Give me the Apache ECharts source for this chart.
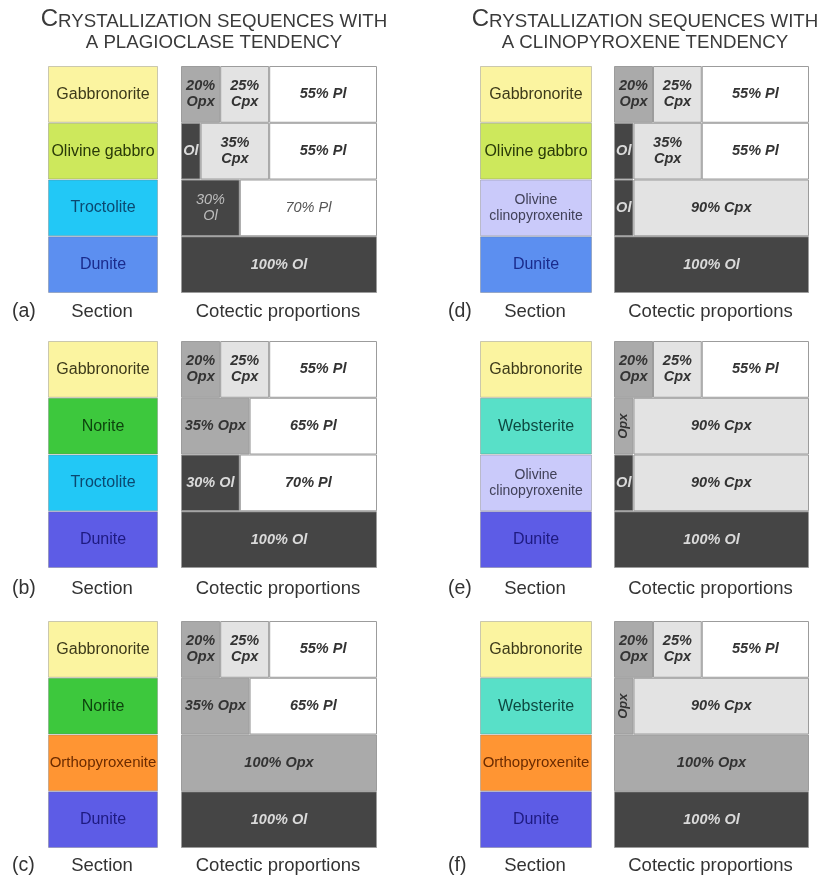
<!DOCTYPE html>
<html>
<head>
<meta charset="utf-8">
<script src="https://cdn.jsdelivr.net/npm/echarts@6/dist/echarts.min.js"></script>
<style>
html,body{margin:0;padding:0;background:#ffffff;}
#chart{width:824px;height:878px;}
</style>
</head>
<body>
<div id="chart"></div>
<script>
// ---------- DATA ----------
const minerals = ['Ol', 'Opx', 'Cpx', 'Pl'];

const rocks_a = ['Gabbronorite', 'Olivine gabbro', 'Troctolite', 'Dunite'];
const ol_a  = [0, 10, 30, 100];
const opx_a = [20, 0, 0, 0];
const cpx_a = [25, 35, 0, 0];
const pl_a  = [55, 55, 70, 0];

const rocks_b = ['Gabbronorite', 'Norite', 'Troctolite', 'Dunite'];
const ol_b  = [0, 0, 30, 100];
const opx_b = [20, 35, 0, 0];
const cpx_b = [25, 0, 0, 0];
const pl_b  = [55, 65, 70, 0];

const rocks_c = ['Gabbronorite', 'Norite', 'Orthopyroxenite', 'Dunite'];
const ol_c  = [0, 0, 0, 100];
const opx_c = [20, 35, 100, 0];
const cpx_c = [25, 0, 0, 0];
const pl_c  = [55, 65, 0, 0];

const rocks_d = ['Gabbronorite', 'Olivine gabbro', 'Olivine clinopyroxenite', 'Dunite'];
const ol_d  = [0, 10, 10, 100];
const opx_d = [20, 0, 0, 0];
const cpx_d = [25, 35, 90, 0];
const pl_d  = [55, 55, 0, 0];

const rocks_e = ['Gabbronorite', 'Websterite', 'Olivine clinopyroxenite', 'Dunite'];
const ol_e  = [0, 0, 10, 100];
const opx_e = [20, 10, 0, 0];
const cpx_e = [25, 90, 90, 0];
const pl_e  = [55, 0, 0, 0];

const rocks_f = ['Gabbronorite', 'Websterite', 'Orthopyroxenite', 'Dunite'];
const ol_f  = [0, 0, 0, 100];
const opx_f = [20, 10, 100, 0];
const cpx_f = [25, 90, 0, 0];
const pl_f  = [55, 0, 0, 0];

const titleLeft  = ['Crystallization sequences with', 'a plagioclase tendency'];
const titleRight = ['Crystallization sequences with', 'a clinopyroxene tendency'];
const captionSection  = 'Section';
const captionCotectic = 'Cotectic proportions';

// ---------- STYLE / LAYOUT ----------
const FONT = '"Liberation Sans", Arial, sans-serif';
const rockFill = {
  'Gabbronorite': '#fbf4a0',
  'Olivine gabbro': '#cde85c',
  'Troctolite': '#22c8f6',
  'Dunite': '#5d5ce6',
  'Norite': '#3dc83d',
  'Olivine clinopyroxenite': '#cacafa',
  'Websterite': '#58e0c8',
  'Orthopyroxenite': '#ff9533'
};
const rockText = {
  'Gabbronorite': '#3d3a1a',
  'Olivine gabbro': '#2a3a08',
  'Troctolite': '#0b4870',
  'Dunite': '#1e1a80',
  'Norite': '#0d440d',
  'Olivine clinopyroxenite': '#404058',
  'Websterite': '#0e4a42',
  'Orthopyroxenite': '#6b2b00'
};
const mineralFill = { Ol: '#454545', Opx: '#aaaaaa', Cpx: '#e3e3e3', Pl: '#ffffff' };

const panels = [
  { id: 'a', rocks: rocks_a, vals: [ol_a, opx_a, cpx_a, pl_a], secX: 48,  cotX: 181, secW: 110, cotW: 196, top: 66,  capY: 312, tagX: 12,  wrapMid: true,  plainRow: 2, duniteFill: '#5c8ff0', duniteText: '#1a2b8c' },
  { id: 'b', rocks: rocks_b, vals: [ol_b, opx_b, cpx_b, pl_b], secX: 48,  cotX: 181, secW: 110, cotW: 196, top: 341, capY: 589, tagX: 12,  wrapMid: false, plainRow: -1 },
  { id: 'c', rocks: rocks_c, vals: [ol_c, opx_c, cpx_c, pl_c], secX: 48,  cotX: 181, secW: 110, cotW: 196, top: 621, capY: 866, tagX: 12,  wrapMid: false, plainRow: -1 },
  { id: 'd', rocks: rocks_d, vals: [ol_d, opx_d, cpx_d, pl_d], secX: 480, cotX: 614, secW: 112, cotW: 195, top: 66,  capY: 312, tagX: 448, wrapMid: true,  plainRow: -1, duniteFill: '#5c8ff0', duniteText: '#1a2b8c' },
  { id: 'e', rocks: rocks_e, vals: [ol_e, opx_e, cpx_e, pl_e], secX: 480, cotX: 614, secW: 112, cotW: 195, top: 341, capY: 589, tagX: 448, wrapMid: true,  plainRow: -1 },
  { id: 'f', rocks: rocks_f, vals: [ol_f, opx_f, cpx_f, pl_f], secX: 480, cotX: 614, secW: 112, cotW: 195, top: 621, capY: 866, tagX: 448, wrapMid: true,  plainRow: -1 }
];
const PANEL_H = 227;

function rockLabel(name, p) {
  let text = name, size = 16;
  if (name === 'Olivine clinopyroxenite') { text = 'Olivine\nclinopyroxenite'; size = 14; }
  if (name === 'Orthopyroxenite') { size = 15; }
  const color = (name === 'Dunite' && p.duniteText) ? p.duniteText : rockText[name];
  return { show: true, position: 'inside', formatter: text, fontFamily: FONT, fontSize: size, lineHeight: size + 2, color: color, overflow: 'none' };
}

function cellLabel(p, m, v, row) {
  const dark = m === 'Ol';
  const plain = p.plainRow === row;
  const lab = {
    show: true, position: 'inside', fontFamily: FONT, fontSize: 14.5, lineHeight: 16,
    fontStyle: 'italic', fontWeight: plain ? 'normal' : 'bold',
    color: dark ? (plain ? '#bdbdbd' : '#dadada') : (plain ? '#555555' : '#333333')
  };
  let text;
  if (v <= 10) {
    text = m;
    if (m === 'Opx') { lab.rotate = 90; lab.fontSize = 13; }
  } else if (v <= 25 || (v < 50 && p.wrapMid)) {
    text = v + '%\n' + m;
  } else {
    text = v + '% ' + m;
  }
  lab.formatter = text;
  return lab;
}

const grid = [], xAxis = [], yAxis = [], series = [], graphic = [];

panels.forEach((p, i) => {
  const gs = i * 2, gc = i * 2 + 1;
  grid.push({ left: p.secX, top: p.top, width: p.secW, height: PANEL_H, containLabel: false });
  grid.push({ left: p.cotX, top: p.top, width: p.cotW, height: PANEL_H, containLabel: false });
  xAxis.push({ type: 'value', gridIndex: gs, min: 0, max: 1, show: false });
  xAxis.push({ type: 'value', gridIndex: gc, min: 0, max: 100, show: false });
  yAxis.push({ type: 'category', gridIndex: gs, data: p.rocks, inverse: true, show: false });
  yAxis.push({ type: 'category', gridIndex: gc, data: p.rocks, inverse: true, show: false });

  series.push({
    type: 'bar', xAxisIndex: gs, yAxisIndex: gs, barCategoryGap: 0, silent: true,
    data: p.rocks.map(r => ({
      value: 1,
      itemStyle: { color: (r === 'Dunite' && p.duniteFill) ? p.duniteFill : rockFill[r], borderColor: 'rgba(110,110,110,0.35)', borderWidth: 1 },
      label: rockLabel(r, p)
    }))
  });

  minerals.forEach((m, k) => {
    series.push({
      type: 'bar', name: m, stack: 'cot' + p.id, xAxisIndex: gc, yAxisIndex: gc,
      barCategoryGap: 0, silent: true,
      itemStyle: { color: mineralFill[m], borderColor: '#9c9c9c', borderWidth: 1 },
      data: p.vals[k].map((v, row) => v > 0 ? { value: v, label: cellLabel(p, m, v, row) } : '-')
    });
  });

  // captions
  graphic.push({ type: 'text', x: p.tagX, y: p.capY, style: { text: '(' + p.id + ')', fontFamily: FONT, fontSize: 19.5, fill: '#333333', align: 'left', verticalAlign: 'middle' } });
  graphic.push({ type: 'text', x: p.secX + p.secW / 2 - 1, y: p.capY, style: { text: captionSection, fontFamily: FONT, fontSize: 18.5, fill: '#333333', align: 'center', verticalAlign: 'middle' } });
  graphic.push({ type: 'text', x: p.cotX + p.cotW / 2 - 1, y: p.capY, style: { text: captionCotectic, fontFamily: FONT, fontSize: 18.5, fill: '#333333', align: 'center', verticalAlign: 'middle' } });
});

function smallCaps(str) {
  // first letter of the heading as a full capital, the rest as small capitals
  return str.split(' ').map((w, idx) => idx === 0 && /^[A-Z]/.test(w) && w.length > 1
    ? '{big|' + w[0] + '}{sm|' + w.slice(1).toUpperCase() + '}'
    : '{sm|' + w.toUpperCase() + '}').join('{sm| }');
}
const richCaps = {
  big: { fontFamily: FONT, fontSize: 24, fill: '#3a3a3a', color: '#3a3a3a', verticalAlign: 'bottom' },
  sm:  { fontFamily: FONT, fontSize: 18.7, fill: '#3a3a3a', color: '#3a3a3a', verticalAlign: 'bottom' }
};
[[titleLeft, 214], [titleRight, 645]].forEach(([t, cx]) => {
  graphic.push({ type: 'text', x: cx, y: 19, style: { text: smallCaps(t[0]), rich: richCaps, align: 'center', verticalAlign: 'middle', fill: '#3a3a3a' } });
  graphic.push({ type: 'text', x: cx, y: 43, style: { text: '{sm|' + t[1].toUpperCase() + '}', rich: richCaps, align: 'center', verticalAlign: 'middle', fill: '#3a3a3a' } });
});

const chart = echarts.init(document.getElementById('chart'), null, { renderer: 'canvas' });
chart.setOption({
  backgroundColor: '#ffffff',
  animation: false,
  grid, xAxis, yAxis, series, graphic
});
</script>
</body>
</html>
